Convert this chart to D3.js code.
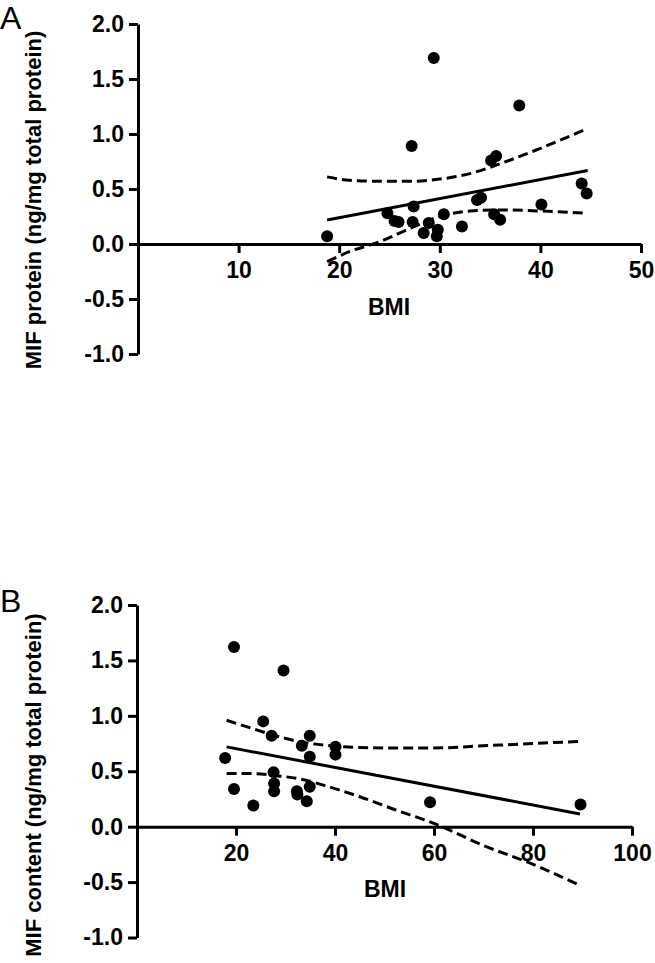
<!DOCTYPE html>
<html><head><meta charset="utf-8">
<script src="https://cdn.jsdelivr.net/npm/d3@7"></script>
<style>
body{margin:0;background:#fff}
svg{display:block}
text{font-family:"Liberation Sans",Arial,Helvetica,sans-serif}
</style>
</head><body>
<svg id="chart" width="655" height="963"></svg>
<script>
// ---------- Panel A data ----------
const panelLabelA = "A";
const yTitleA = "MIF protein (ng/mg total protein)";
const xTitleA = "BMI";
const bmiA = [18.8, 29.4, 37.9, 27.2, 35.1, 35.6, 33.7, 34.1, 44.1, 44.6, 40.1, 35.4, 36.0, 32.2, 27.4, 27.3, 24.8, 25.5, 25.9, 28.9, 28.4, 29.8, 29.7, 30.4];
const mifA = [0.07, 1.69, 1.26, 0.89, 0.76, 0.80, 0.40, 0.42, 0.55, 0.46, 0.36, 0.27, 0.22, 0.16, 0.34, 0.20, 0.28, 0.21, 0.20, 0.19, 0.10, 0.13, 0.07, 0.27];
const fitXA = [18.8, 44.7];
const fitYA = [0.218, 0.668];
const bandXA = [18.8, 21, 24, 27, 30, 33, 36, 40, 44.7];
const lowerA = [-0.16, -0.07, 0.02, 0.14, 0.25, 0.30, 0.31, 0.30, 0.28];
const upperA = [0.61, 0.58, 0.57, 0.57, 0.59, 0.64, 0.73, 0.87, 1.05];
const xTicksA = [10, 20, 30, 40, 50];
const yTicksA = [-1.0, -0.5, 0.0, 0.5, 1.0, 1.5, 2.0];

// ---------- Panel B data ----------
const panelLabelB = "B";
const yTitleB = "MIF content (ng/mg total protein)";
const xTitleB = "BMI";
const bmiB = [19.6, 29.6, 25.5, 27.2, 17.8, 19.6, 23.5, 34.9, 33.3, 34.9, 27.6, 27.7, 27.7, 32.3, 32.4, 34.9, 34.3, 40.1, 40.1, 59.2, 89.6];
const mifB = [1.62, 1.41, 0.95, 0.82, 0.62, 0.34, 0.19, 0.82, 0.73, 0.63, 0.49, 0.39, 0.32, 0.32, 0.29, 0.36, 0.23, 0.72, 0.65, 0.22, 0.20];
const fitXB = [18.1, 89.5];
const fitYB = [0.72, 0.115];
const bandXB = [18.1, 23, 28, 33, 38, 45, 52, 60, 70, 80, 89.5];
const lowerB = [0.48, 0.48, 0.46, 0.43, 0.37, 0.27, 0.155, 0.03, -0.17, -0.34, -0.53];
const upperB = [0.96, 0.89, 0.82, 0.765, 0.735, 0.715, 0.71, 0.71, 0.73, 0.75, 0.77];
const xTicksB = [20, 40, 60, 80, 100];
const yTicksB = [-1.0, -0.5, 0.0, 0.5, 1.0, 1.5, 2.0];

const svg = d3.select("#chart");

function drawPanel(d, lay) {
  const g = svg.append("g");
  const x = d3.scaleLinear().domain(lay.xDomain).range([lay.x0, lay.x1]);
  const y = d3.scaleLinear().domain([-1, 2]).range([lay.yBottom, lay.yTop]);

  const ya = g.append("g").attr("transform", `translate(${lay.x0},0)`)
    .call(d3.axisLeft(y).tickValues(d.yTicks).tickSize(9).tickSizeOuter(0).tickPadding(5));
  const xa = g.append("g").attr("transform", `translate(0,${y(0)})`)
    .call(d3.axisBottom(x).tickValues(d.xTicks).tickSize(9).tickSizeOuter(0).tickPadding(9));
  [ya, xa].forEach(a => {
    a.select(".domain").attr("stroke", "#000").attr("stroke-width", 3);
    a.selectAll(".tick line").attr("stroke", "#000").attr("stroke-width", 3);
    a.selectAll(".tick text").attr("fill", "#000").attr("font-size", 23).attr("font-weight", "bold")
      .attr("font-family", '"Liberation Sans",Arial,sans-serif');
  });
  xa.selectAll(".tick text").text(v => String(v));
  ya.selectAll(".tick text").text(v => (v < 0 ? "-" : "") + Math.abs(v).toFixed(1));

  g.append("text").attr("x", lay.xTitleX).attr("y", lay.xTitleY).attr("text-anchor", "middle")
    .attr("font-size", 23).attr("font-weight", "bold").text(d.xTitle);
  g.append("text").attr("transform", `translate(${lay.yTitleX},${lay.yTitleY}) rotate(-90)`)
    .attr("text-anchor", "middle").attr("font-size", 22).attr("font-weight", "bold").text(d.yTitle);
  g.append("text").attr("x", 0).attr("y", lay.labelY).attr("font-size", 32).text(d.label);

  g.append("g").selectAll("circle").data(d.bmi.map((v, i) => [v, d.mif[i]])).join("circle")
    .attr("cx", p => x(p[0])).attr("cy", p => y(p[1])).attr("r", 6).attr("fill", "#000");

  const line = d3.line().x(p => x(p[0])).y(p => y(p[1]));
  const cline = d3.line().x(p => x(p[0])).y(p => y(p[1])).curve(d3.curveMonotoneX);
  g.append("path").attr("d", line(d.fitX.map((v, i) => [v, d.fitY[i]])))
    .attr("fill", "none").attr("stroke", "#000").attr("stroke-width", 3);
  [d.lower, d.upper].forEach(arr => {
    g.append("path").attr("d", cline(d.bandX.map((v, i) => [v, arr[i]])))
      .attr("fill", "none").attr("stroke", "#000").attr("stroke-width", 3)
      .attr("stroke-dasharray", "10,5");
  });
}

drawPanel(
  {label: panelLabelA, yTitle: yTitleA, xTitle: xTitleA, bmi: bmiA, mif: mifA, fitX: fitXA, fitY: fitYA,
   bandX: bandXA, lower: lowerA, upper: upperA, xTicks: xTicksA, yTicks: yTicksA},
  {xDomain: [0, 50], x0: 138, x1: 641, yTop: 24, yBottom: 354, xTitleX: 389, xTitleY: 315,
   yTitleX: 41, yTitleY: 200, labelY: 29}
);
drawPanel(
  {label: panelLabelB, yTitle: yTitleB, xTitle: xTitleB, bmi: bmiB, mif: mifB, fitX: fitXB, fitY: fitYB,
   bandX: bandXB, lower: lowerB, upper: upperB, xTicks: xTicksB, yTicks: yTicksB},
  {xDomain: [0, 100], x0: 137, x1: 632, yTop: 605, yBottom: 937.5, xTitleX: 385, xTitleY: 897,
   yTitleX: 41, yTitleY: 785, labelY: 612}
);
</script>
</body></html>
